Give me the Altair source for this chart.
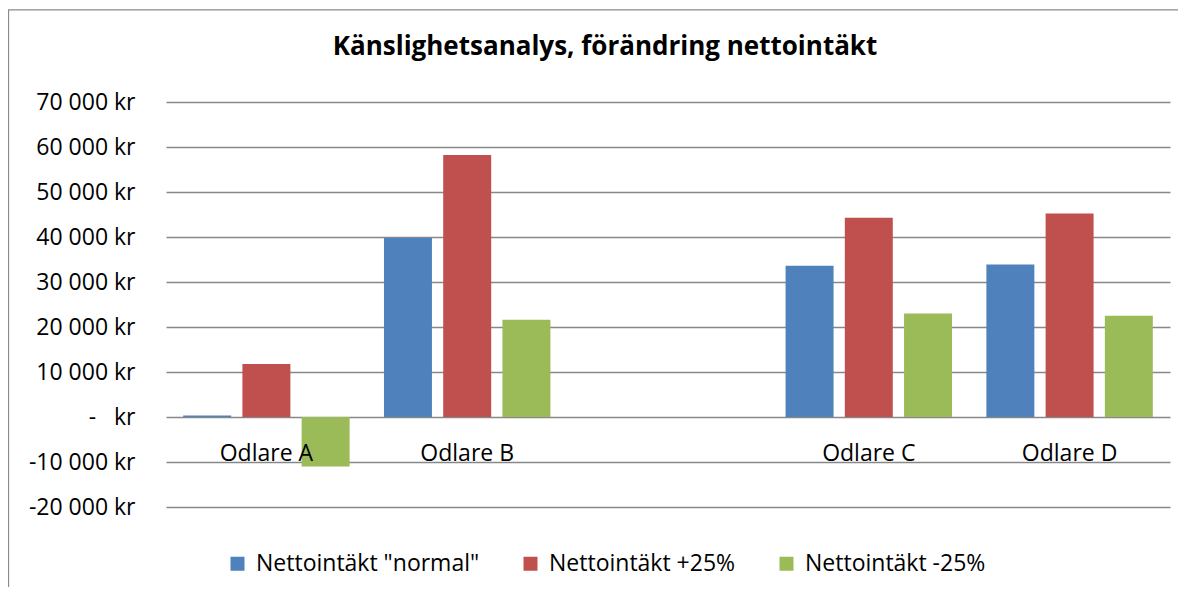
import altair as alt
import pandas as pd

categories = ["Odlare A", "Odlare B", " ", "Odlare C", "Odlare D"]
series = ['Nettointäkt "normal"', "Nettointäkt +25%", "Nettointäkt -25%"]
normal = [350, 39800, None, 33600, 33900]
plus25 = [11800, 58200, None, 44300, 45200]
minus25 = [-11000, 21600, None, 23000, 22500]
y_ticks = [-20000, -10000, 0, 10000, 20000, 30000, 40000, 50000, 60000, 70000]
colors = ["#4F81BD", "#C0504D", "#9BBB59"]

rows = []
for s, vals in zip(series, [normal, plus25, minus25]):
    for c, v in zip(categories, vals):
        if v is not None:
            rows.append({"odlare": c, "serie": s, "varde": v})
df = pd.DataFrame(rows)

FONT = "Open Sans"

label_expr = (
    "datum.value == 0 ? '-\u00a0\u00a0\u00a0kr' : "
    "(datum.value < 0 ? '-' : '') + replace(format(abs(datum.value), ','), ',', ' ') + ' kr'"
)

bars = alt.Chart(df).mark_bar().encode(
    x=alt.X(
        "odlare:N",
        sort=categories,
        scale=alt.Scale(domain=categories, paddingInner=0, paddingOuter=0),
        axis=alt.Axis(
            title=None, labelAngle=0, ticks=False, tickSize=0, domain=False, grid=False,
            offset=-90, labelPadding=36, labelBaseline="middle", labelFontSize=23,
            labelFont=FONT, labelColor="#000000", zindex=1,
        ),
    ),
    xOffset=alt.XOffset(
        "serie:N", sort=series,
        scale=alt.Scale(domain=series, paddingInner=0.19, paddingOuter=0.29),
    ),
    y=alt.Y(
        "varde:Q",
        scale=alt.Scale(domain=[-20000, 70000], nice=False, zero=False),
        axis=alt.Axis(
            title=None, values=y_ticks, labelExpr=label_expr, grid=True,
            gridColor="#888888", gridWidth=1.4, domain=False, ticks=False,
            labelPadding=31, labelFontSize=23, labelFont=FONT, labelColor="#000000",
            zindex=0,
        ),
    ),
    color=alt.Color(
        "serie:N", sort=series,
        scale=alt.Scale(domain=series, range=colors),
        legend=alt.Legend(
            title=None, orient="none", direction="horizontal", legendX=60, legendY=450,
            symbolType="square", symbolSize=196, symbolStrokeWidth=0, labelOffset=7,
            columnPadding=39, labelFontSize=23, labelFont=FONT, labelColor="#000000",
            labelLimit=500, padding=0,
        ),
    ),
)

frame = alt.Chart(alt.Data(values=[{}])).mark_rect(
    fill=None, stroke="#8a8a8a", strokeWidth=1.3
).encode(
    x=alt.value(-157.5), x2=alt.value(1060), y=alt.value(-92.2), y2=alt.value(520)
)

chart = alt.layer(frame, bars).properties(
    width=1004,
    height=405,
    autosize=alt.AutoSizeParams(type="none"),
    padding={"left": 158, "top": 94, "right": 8, "bottom": 80},
    title=alt.TitleParams(
        "Känslighetsanalys, förändring nettointäkt",
        font=FONT, fontSize=26, fontWeight="bold", color="#000000",
        anchor="middle", frame="group", baseline="alphabetic", offset=-71.5, dx=-63,
    ),
).configure_view(stroke=None)

chart.save("out.html", embed_options={"renderer": "svg", "actions": False})
